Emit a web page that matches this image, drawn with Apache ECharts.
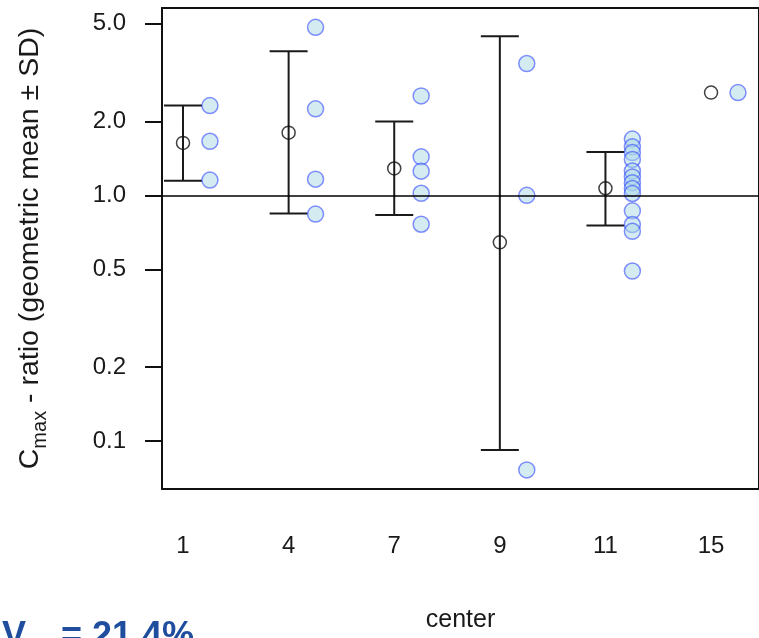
<!DOCTYPE html>
<html>
<head>
<meta charset="utf-8">
<script src="https://cdn.jsdelivr.net/npm/echarts@6/dist/echarts.min.js"></script>
<style>
  html, body { margin: 0; padding: 0; background: #fff; }
  #main { width: 759px; height: 638px; }
</style>
</head>
<body>
<div id="main"></div>
<script>
// study centers (x axis)
const centers = ['1', '4', '7', '9', '11', '15'];

// geometric mean per center and the +/- SD limits
const geoMean = [1.635, 1.80, 1.287, 0.644, 1.069, 2.62];
const sdLow = [1.147, 0.844, 0.832, 0.092, 0.754, null];
const sdHigh = [2.32, 3.86, 2.00, 4.44, 1.502, null];

// individual Cmax ratios per center
const ratios1 = [2.32, 1.66, 1.154];
const ratios4 = [4.83, 2.25, 1.164, 0.839];
const ratios7 = [2.54, 1.435, 1.255, 1.02, 0.763];
const ratios9 = [3.44, 1.0, 0.0763];
const ratios11 = [1.695, 1.576, 1.493, 1.40, 1.256, 1.189, 1.126, 1.066, 1.018, 0.865, 0.761, 0.714, 0.492];
const ratios15 = [2.62];

const yTicks = [0.1, 0.2, 0.5, 1, 2, 5];

const allRatios = [ratios1, ratios4, ratios7, ratios9, ratios11, ratios15];
const pointOffset = 0.255;
const capHalf = 19;

const meanData = geoMean.map((v, i) => [i + 1, v]);

const barData = [];
geoMean.forEach((v, i) => {
  if (sdLow[i] !== null) barData.push([i + 1, sdLow[i], sdHigh[i]]);
});

const pointData = [];
allRatios.forEach((list, i) => {
  list.forEach((v) => pointData.push([i + 1 + pointOffset, v]));
});

const myChart = echarts.init(document.getElementById('main'));

const option = {
  animation: false,
  backgroundColor: '#fff',
  grid: {
    left: 162,
    right: 0,
    top: 8,
    bottom: 139,
    show: true,
    borderColor: '#111',
    borderWidth: 2,
  },
  xAxis: {
    type: 'value',
    min: 0.801,
    max: 6.454,
    axisLine: { show: false },
    axisTick: { show: false },
    splitLine: { show: false },
    axisLabel: {
      customValues: [1, 2, 3, 4, 5, 6],
      formatter: (v) => centers[Math.round(v) - 1],
      fontSize: 24,
      fontFamily: 'Liberation Sans',
      color: '#1a1a1a',
      margin: 45,
    },
    name: 'center',
    nameLocation: 'middle',
    nameGap: 119,
    nameTextStyle: { fontSize: 25, fontFamily: 'Liberation Sans', color: '#1a1a1a' },
  },
  yAxis: {
    type: 'log',
    logBase: 10,
    min: 0.0638,
    max: 5.79,
    axisLine: { show: false },
    splitLine: { show: false },
    minorTick: { show: false },
    axisTick: {
      show: true,
      length: 17,
      customValues: yTicks,
      lineStyle: { color: '#111', width: 2 },
    },
    axisLabel: {
      customValues: yTicks,
      formatter: (v) => Number(v).toFixed(1),
      fontSize: 24,
      fontFamily: 'Liberation Sans',
      color: '#1a1a1a',
      margin: 36,
    },
    name: '{c|C}{s|max}{c| - ratio (geometric mean ± SD)}',
    nameLocation: 'middle',
    nameRotate: 90,
    nameGap: 112,
    nameTextStyle: {
      rich: {
        c: { fontSize: 28.5, fontFamily: 'Liberation Sans', color: '#1a1a1a' },
        s: { fontSize: 20, fontFamily: 'Liberation Sans', color: '#1a1a1a', verticalAlign: 'bottom', padding: [20, 0, 0, 0] },
      },
    },
  },
  series: [
    {
      type: 'custom',
      data: barData,
      z: 2,
      renderItem: (params, api) => {
        const x = api.value(0);
        const pLo = api.coord([x, api.value(1)]);
        const pHi = api.coord([x, api.value(2)]);
        const style = { stroke: '#1a1a1a', lineWidth: 2 };
        return {
          type: 'group',
          children: [
            { type: 'line', shape: { x1: pLo[0], y1: pLo[1], x2: pHi[0], y2: pHi[1] }, style },
            { type: 'line', shape: { x1: pHi[0] - capHalf, y1: pHi[1], x2: pHi[0] + capHalf, y2: pHi[1] }, style },
            { type: 'line', shape: { x1: pLo[0] - capHalf, y1: pLo[1], x2: pLo[0] + capHalf, y2: pLo[1] }, style },
          ],
        };
      },
    },
    {
      type: 'scatter',
      data: meanData,
      z: 3,
      symbol: 'circle',
      symbolSize: 13,
      itemStyle: { color: 'rgba(0,0,0,0)', borderColor: '#111', borderWidth: 1.5 },
      markLine: {
        silent: true,
        symbol: 'none',
        label: { show: false },
        lineStyle: { color: '#000', width: 1.5, type: 'solid' },
        data: [{ yAxis: 1 }],
      },
    },
    {
      type: 'scatter',
      data: pointData,
      z: 4,
      symbol: 'circle',
      symbolSize: 16,
      itemStyle: { color: 'rgba(173,216,230,0.65)', borderColor: 'rgba(40,60,255,0.7)', borderWidth: 1.5 },
    },
  ],
  graphic: [
    {
      type: 'text',
      x: 2,
      y: 619,
      style: { text: 'V', font: 'bold 36px "Liberation Sans"', fill: '#1f4e9f', verticalAlign: 'top' },
    },
    {
      type: 'text',
      x: 61,
      y: 619,
      style: { text: '= 21.4%', font: 'bold 36px "Liberation Sans"', fill: '#1f4e9f', verticalAlign: 'top' },
    },
  ],
};

myChart.setOption(option);
</script>
</body>
</html>
